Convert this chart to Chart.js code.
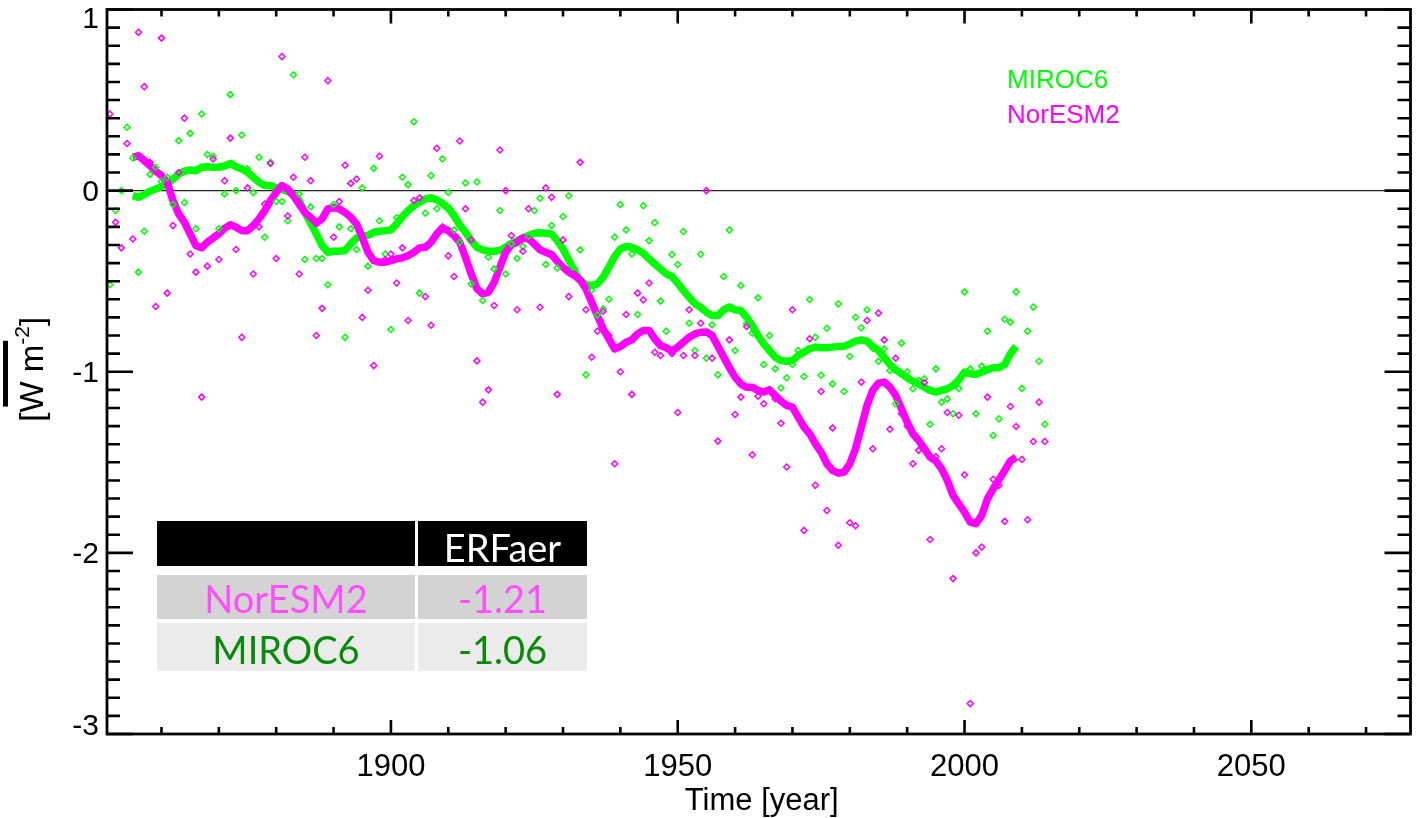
<!DOCTYPE html>
<html><head><meta charset="utf-8">
<script src="https://cdn.jsdelivr.net/npm/chart.js@4.4.1/dist/chart.umd.min.js"></script>
<style>html,body{margin:0;padding:0;background:#fff;}#wrap{position:relative;width:1416px;height:818px;}</style>
</head><body><div id="wrap"><canvas id="c" width="1416" height="818"></canvas></div>
<script>
// ---------------- data ----------------
const scatterStart = 1850;   // annual values 1850-2014
const lineStart = 1855;      // smoothed values 1855-2009
const miroc6Annual = [
 0.17,-0.52,-0.11,0.0,0.35,0.18,-0.45,-0.224,0.09,0.129,
 0.05,0.074,-0.077,0.276,-0.066,0.316,-0.21,0.423,0.199,0.19,
 -0.21,-0.018,0.53,0.0,0.307,0.12,-0.011,0.184,-0.257,0.156,
 -0.06,-0.06,-0.166,0.64,-0.018,-0.38,-0.09,-0.375,-0.375,-0.52,
 -0.077,-0.20,-0.81,-0.21,-0.325,0.015,-0.417,0.123,-0.166,-0.35,
 -0.767,-0.15,0.074,0.033,0.38,-0.566,-0.125,0.083,-0.10,0.175,
 -0.01,-0.217,-0.285,0.042,-0.515,0.048,-0.607,-0.368,-0.432,-0.11,
 -0.46,-0.294,-0.375,-0.309,-0.25,-0.11,-0.042,-0.408,-0.193,-0.427,
 -0.143,-0.028,-0.43,-0.327,-1.017,-0.55,-0.686,-0.653,-0.6,-0.257,
 -0.077,-0.217,-0.35,-0.684,-0.083,-0.276,-0.177,-0.61,-0.776,-0.353,
 -0.408,-0.226,-0.732,-0.883,-0.351,-0.925,-0.741,-1.017,-0.474,-0.217,
 -0.883,-0.524,-0.735,-0.787,-0.592,-0.96,-0.80,-0.984,-1.09,-1.033,
 -0.96,-0.883,-1.026,-0.601,-0.81,-1.019,-0.76,-1.067,-0.625,-1.109,
 -0.916,-0.699,-0.757,-0.658,-0.87,-0.942,-0.874,-0.993,-1.177,-0.842,
 -1.0,-1.094,-1.048,-1.039,-1.29,-0.984,-1.168,-1.15,-1.232,-1.092,
 -0.559,-0.984,-1.232,-0.969,-0.776,-1.352,-1.26,-0.71,-0.726,-0.559,
 -1.092,-0.776,-0.643,-0.942,-1.29
];
const noresm2Annual = [
 0.05,0.423,-0.175,-0.316,0.26,-0.267,0.874,0.574,0.156,-0.64,
 0.842,-0.566,-0.193,0.10,0.40,-0.35,-0.45,-1.14,-0.417,0.175,
 -0.38,0.055,0.29,-0.325,-0.81,0.015,-0.46,-0.20,-0.074,0.15,
 -0.375,0.74,-0.14,0.074,-0.46,0.184,0.055,-0.80,-0.65,0.607,
 -0.257,-0.06,0.14,0.04,0.064,-0.70,-0.55,-0.966,0.19,-0.38,
 -0.35,-0.51,-0.316,-0.717,-0.055,-0.04,-0.585,-0.743,0.234,-0.2,
 -0.36,-0.474,0.274,-0.10,-0.272,-0.94,-1.168,-1.10,-0.634,0.224,
 0.0,-0.248,-0.658,-0.335,-0.10,-0.3,-0.644,0.015,-0.037,-1.125,
 -0.272,-0.585,-0.46,0.156,-0.658,-0.92,-0.776,-0.666,-0.8,-1.508,
 -1.0,-0.684,-1.125,-0.566,-0.603,-0.51,-0.892,-0.91,-0.87,-0.9,
 -1.225,-0.91,-0.658,-0.91,-0.732,0.0,-0.925,-1.383,-0.92,-0.824,
 -1.236,-1.14,-0.75,-1.458,-1.135,-1.177,-1.1,-1.15,-1.284,-1.526,
 -0.658,-1.25,-1.876,-0.818,-1.627,-1.109,-1.766,-1.31,-1.958,-1.55,
 -1.834,-1.85,-1.057,-0.717,-1.425,-0.676,-0.824,-1.317,-0.925,-1.232,
 -1.3,-1.508,-1.434,-1.06,-1.926,-1.468,-1.425,-1.225,-2.142,-1.24,
 -1.569,-2.832,-2.0,-1.968,-1.14,-1.594,-1.627,-1.826,-1.192,-1.302,
 -1.484,-1.817,-1.385,-1.168,-1.385
];
const miroc6Smooth = [
 -0.028,-0.037,-0.022,-0.004,0.009,0.022,0.037,0.064,0.092,0.107,
 0.114,0.11,0.129,0.132,0.129,0.129,0.136,0.151,0.132,0.12,
 0.101,0.074,0.046,0.028,0.028,0.015,0.007,-0.004,-0.022,-0.055,
 -0.12,-0.18,-0.239,-0.303,-0.34,-0.335,-0.335,-0.331,-0.294,-0.261,
 -0.248,-0.248,-0.23,-0.224,-0.221,-0.217,-0.184,-0.143,-0.11,-0.083,
 -0.064,-0.046,-0.04,-0.051,-0.07,-0.096,-0.138,-0.188,-0.23,-0.276,
 -0.313,-0.327,-0.335,-0.335,-0.331,-0.313,-0.291,-0.276,-0.261,-0.248,
 -0.235,-0.232,-0.235,-0.239,-0.276,-0.322,-0.383,-0.445,-0.497,-0.519,
 -0.524,-0.515,-0.478,-0.423,-0.364,-0.322,-0.309,-0.313,-0.327,-0.346,
 -0.377,-0.405,-0.432,-0.46,-0.474,-0.511,-0.552,-0.589,-0.625,-0.644,
 -0.671,-0.69,-0.69,-0.658,-0.642,-0.658,-0.662,-0.699,-0.745,-0.8,
 -0.846,-0.883,-0.92,-0.938,-0.942,-0.938,-0.91,-0.892,-0.873,-0.864,
 -0.868,-0.868,-0.864,-0.86,-0.86,-0.846,-0.831,-0.824,-0.831,-0.86,
 -0.883,-0.92,-0.96,-0.989,-1.011,-1.033,-1.052,-1.067,-1.085,-1.103,
 -1.112,-1.103,-1.094,-1.076,-1.045,-1.002,-1.011,-1.015,-1.002,-0.989,
 -0.978,-0.978,-0.96,-0.9,-0.86
];
const noresm2Smooth = [
 0.184,0.193,0.166,0.138,0.107,0.083,0.046,-0.055,-0.129,-0.175,
 -0.239,-0.303,-0.316,-0.285,-0.261,-0.239,-0.208,-0.188,-0.202,-0.221,
 -0.221,-0.193,-0.156,-0.11,-0.055,-0.009,0.028,0.009,-0.028,-0.074,
 -0.12,-0.147,-0.18,-0.156,-0.101,-0.092,-0.101,-0.12,-0.147,-0.184,
 -0.257,-0.34,-0.386,-0.395,-0.395,-0.386,-0.377,-0.371,-0.359,-0.34,
 -0.316,-0.313,-0.285,-0.239,-0.206,-0.221,-0.248,-0.285,-0.368,-0.46,
 -0.542,-0.57,-0.561,-0.506,-0.423,-0.34,-0.298,-0.285,-0.261,-0.267,
 -0.294,-0.327,-0.34,-0.353,-0.39,-0.423,-0.45,-0.469,-0.493,-0.542,
 -0.616,-0.69,-0.763,-0.818,-0.874,-0.861,-0.837,-0.824,-0.791,-0.772,
 -0.772,-0.818,-0.855,-0.868,-0.886,-0.864,-0.837,-0.809,-0.791,-0.782,
 -0.78,-0.8,-0.859,-0.918,-0.977,-1.03,-1.067,-1.085,-1.085,-1.103,
 -1.112,-1.1,-1.131,-1.162,-1.186,-1.195,-1.25,-1.305,-1.342,-1.397,
 -1.444,-1.508,-1.545,-1.56,-1.554,-1.508,-1.425,-1.305,-1.186,-1.103,
 -1.063,-1.057,-1.085,-1.131,-1.204,-1.278,-1.342,-1.379,-1.425,-1.471,
 -1.493,-1.535,-1.6,-1.683,-1.729,-1.775,-1.83,-1.839,-1.793,-1.701,
 -1.646,-1.596,-1.545,-1.493,-1.471
];
const xMajorTicks = [1900, 1950, 2000, 2050];
const yMajorTicks = [1, 0, -1, -2, -3];
const xRange = [1850.5, 2077.75];
const yRange = [-3, 1];
const legendNames = ['MIROC6', 'NorESM2'];
const tableHeader = 'ERFaer';
const tableModels = ['NorESM2', 'MIROC6'];
const tableERF = ['-1.21', '-1.06'];
const xTitle = 'Time [year]';

// ---------------- helpers ----------------
const pts = (start, vals) => vals.map((v, i) => ({x: start + i, y: v}));
const GREEN = '#00ff00', MAGENTA = '#ff00ff';
const SANS = '"Liberation Sans", Arial, Helvetica, sans-serif';

const decor = {
  id: 'decor',
  beforeDatasetsDraw(chart) {
    const {ctx, chartArea: a, scales: {y}} = chart;
    const y0 = y.getPixelForValue(0);
    ctx.save();
    ctx.strokeStyle = '#222'; ctx.lineWidth = 1.2;
    ctx.beginPath(); ctx.moveTo(a.left, y0); ctx.lineTo(a.right, y0); ctx.stroke();
    ctx.restore();
  },
  afterDraw(chart) {
    const {ctx, chartArea: a, scales: {x, y}} = chart;
    ctx.save();
    ctx.strokeStyle = '#000'; ctx.lineCap = 'butt';
    // frame
    ctx.lineWidth = 2.8;
    ctx.strokeRect(a.left, a.top, a.right - a.left, a.bottom - a.top);
    // x ticks (inward, top and bottom)
    ctx.lineWidth = 2.6;
    for (let v = 1860; v < xRange[1]; v += 10) {
      const px = x.getPixelForValue(v);
      const L = xMajorTicks.includes(v) ? 14 : 7;
      ctx.beginPath();
      ctx.moveTo(px, a.bottom); ctx.lineTo(px, a.bottom - L);
      ctx.moveTo(px, a.top); ctx.lineTo(px, a.top + L);
      ctx.stroke();
    }
    // y ticks (inward, left and right)
    for (let k = -30; k <= 10; k++) {
      const v = k / 10;
      const py = y.getPixelForValue(v);
      const L = (k % 10 === 0) ? 26 : 13;
      ctx.beginPath();
      ctx.moveTo(a.left, py); ctx.lineTo(a.left + L, py);
      ctx.moveTo(a.right, py); ctx.lineTo(a.right - L, py);
      ctx.stroke();
    }
    // tick labels
    ctx.fillStyle = '#000';
    ctx.font = '31px ' + SANS;
    ctx.textAlign = 'center'; ctx.textBaseline = 'alphabetic';
    xMajorTicks.forEach(v => ctx.fillText(String(v), x.getPixelForValue(v), a.bottom + 42));
    ctx.font = '30px ' + SANS;
    ctx.textAlign = 'right';
    yMajorTicks.forEach(v => {
      let b = y.getPixelForValue(v) + 10.5;
      b = Math.max(a.top + 18, Math.min(a.bottom + 1, b));
      ctx.fillText(String(v), a.left - 8, b);
    });
    // x title
    ctx.font = '31px ' + SANS; ctx.textAlign = 'center';
    ctx.fillText(xTitle, (a.left + a.right) / 2 + 3, 810);
    // y title (rotated)
    ctx.save();
    ctx.translate(43, (a.top + a.bottom) / 2);
    ctx.rotate(-Math.PI / 2);
    ctx.textAlign = 'left';
    let cx = -50;
    ctx.font = '33px ' + SANS;
    ctx.fillText('[W m', cx, 0);
    const wStart = cx + ctx.measureText('[').width;
    const wEnd = cx + ctx.measureText('[W m').width;
    cx += ctx.measureText('[W m').width;
    ctx.font = '21px ' + SANS;
    ctx.fillText('-2', cx, -14);
    cx += ctx.measureText('-2').width;
    ctx.font = '33px ' + SANS;
    ctx.fillText(']', cx, 0);
    ctx.fillRect(wStart + 6, -40, (wEnd - wStart) - 2, 5);
    ctx.restore();
    // legend text
    ctx.font = '26px ' + SANS; ctx.textAlign = 'left';
    ctx.fillStyle = GREEN; ctx.fillText(legendNames[0], 1007, 88);
    ctx.fillStyle = MAGENTA; ctx.fillText(legendNames[1], 1007, 123);
    // ERF table
    const c1 = [157, 415], c2 = [418, 587];
    const rows = [[521, 566, '#000'], [575, 619, '#d3d3d3'], [623, 671, '#ebebeb']];
    rows.forEach(r => {
      ctx.fillStyle = r[2];
      ctx.fillRect(c1[0], r[0], c1[1] - c1[0], r[1] - r[0]);
      ctx.fillRect(c2[0], r[0], c2[1] - c2[0], r[1] - r[0]);
    });
    ctx.font = '38px Lato, "Open Sans", sans-serif';
    ctx.textAlign = 'center';
    const m1 = (c1[0] + c1[1]) / 2, m2 = (c2[0] + c2[1]) / 2;
    ctx.fillStyle = '#fff'; ctx.fillText(tableHeader, m2, 561.5);
    const tcol = ['#ff4dff', '#078a07'];
    const base = [612.5, 664];
    tableModels.forEach((m, i) => {
      ctx.fillStyle = tcol[i];
      ctx.fillText(m, m1, base[i]);
      ctx.fillText(tableERF[i], m2, base[i]);
    });
    ctx.restore();
  }
};

new Chart(document.getElementById('c'), {
  type: 'scatter',
  data: {
    datasets: [
      {label: 'NorESM2', data: pts(scatterStart, noresm2Annual), showLine: false,
       pointStyle: 'rectRot', pointRadius: 3, pointBorderWidth: 1.5,
       borderColor: MAGENTA, backgroundColor: 'rgba(0,0,0,0)', order: 1},
      {label: 'MIROC6', data: pts(scatterStart, miroc6Annual), showLine: false,
       pointStyle: 'rectRot', pointRadius: 3, pointBorderWidth: 1.5,
       borderColor: GREEN, backgroundColor: 'rgba(0,0,0,0)', order: 1},
      {label: 'NorESM2 smoothed', data: pts(lineStart, noresm2Smooth), showLine: true,
       pointRadius: 0, borderWidth: 7.5, borderColor: MAGENTA, borderJoinStyle: 'round',
       tension: 0, order: 2},
      {label: 'MIROC6 smoothed', data: pts(lineStart, miroc6Smooth), showLine: true,
       pointRadius: 0, borderWidth: 7.5, borderColor: GREEN, borderJoinStyle: 'round',
       tension: 0, order: 3}
    ]
  },
  options: {
    responsive: false, animation: false, devicePixelRatio: 1, events: [],
    layout: {padding: {left: 107, right: 2.5, top: 9.5, bottom: 84}},
    plugins: {legend: {display: false}, tooltip: {enabled: false}},
    scales: {
      x: {type: 'linear', min: xRange[0], max: xRange[1], display: false},
      y: {type: 'linear', min: yRange[0], max: yRange[1], display: false}
    }
  },
  plugins: [decor]
});
</script></body></html>
